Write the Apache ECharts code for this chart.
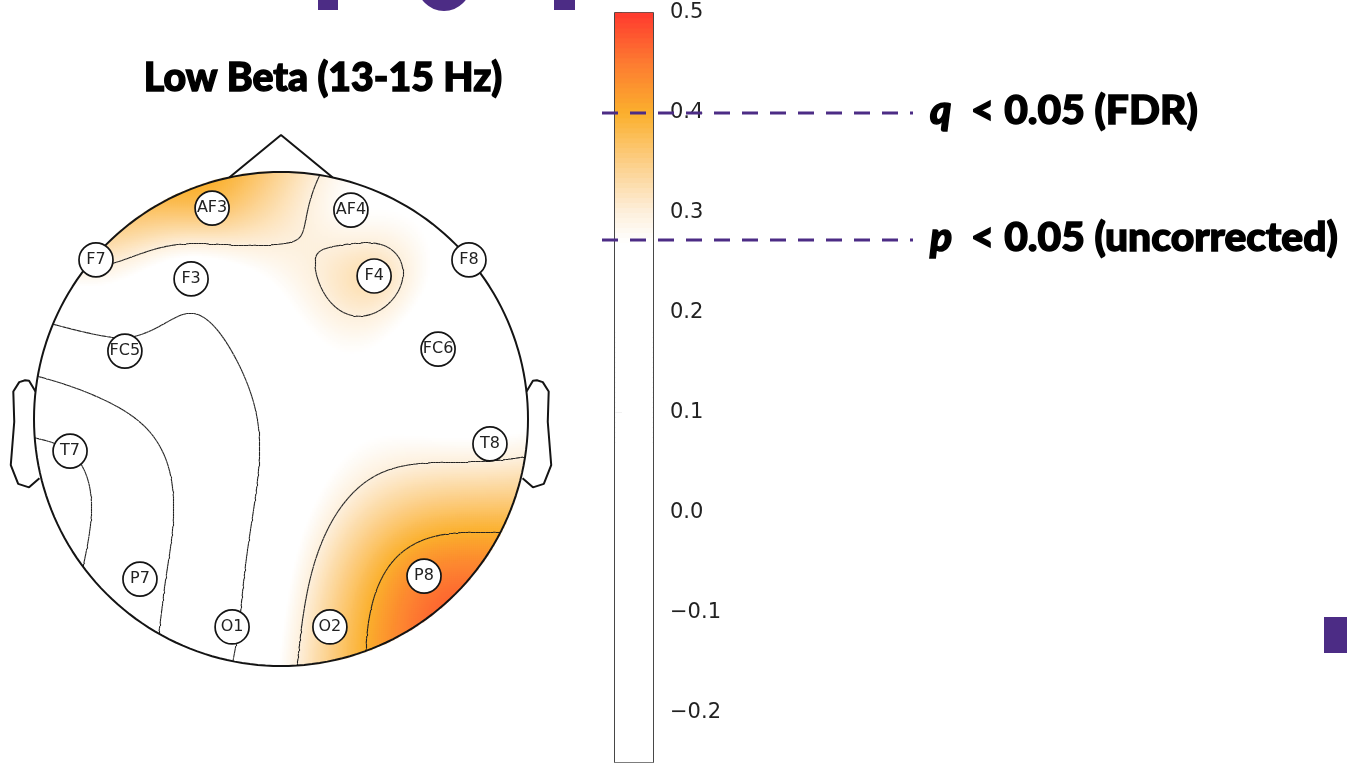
<!DOCTYPE html>
<html><head><meta charset="utf-8">
<script src="https://cdn.jsdelivr.net/npm/echarts@6/dist/echarts.min.js"></script>
<style>html,body{margin:0;padding:0;background:#fff}#c{width:1347px;height:763px}</style>
</head><body><div id="c"></div>
<script>
// ---------------- data ----------------
const channelNames = ['AF3','AF4','F7','F3','F4','F8','FC5','FC6','T7','T8','P7','P8','O1','O2'];
// sensor positions in head units (head radius = 1, nose up)
const channelX = [-0.279, 0.283, -0.749, -0.364, 0.377, 0.761, -0.632, 0.636, -0.854, 0.846, -0.571, 0.579, -0.198, 0.198];
const channelY = [ 0.854, 0.846,  0.644,  0.567, 0.579, 0.644,  0.275, 0.283, -0.130, -0.101, -0.648, -0.636, -0.842, -0.842];
// correlation value per channel
const channelValues = [0.37, 0.272, 0.31, 0.228, 0.325, 0.24, 0.185, 0.22, 0.00, 0.278, 0.07, 0.44, 0.19, 0.345];
const contourLevels = [0.0, 0.1, 0.2, 0.3, 0.4];
const colorbarTicks = [-0.2, -0.1, 0.0, 0.1, 0.2, 0.3, 0.4, 0.5];
const colorRange = [-0.25, 0.5];
const titleText = 'Low Beta (13-15 Hz)';
const thresholdValues = [0.4, 0.273];
const thresholdStats = ['q', 'p'];
const thresholdTexts = ['< 0.05 (FDR)', '< 0.05 (uncorrected)'];

// ---------------- styles ----------------
const colorStops = [[-0.25,'#ffffff'],[0.27,'#ffffff'],[0.3,'#fdf0dd'],[0.35,'#fccf88'],[0.4,'#fbb02d'],[0.45,'#fd7b31'],[0.5,'#ff3a2e']];
const PURPLE = '#4c2c85';

function hex(c){return [parseInt(c.slice(1,3),16),parseInt(c.slice(3,5),16),parseInt(c.slice(5,7),16)];}
function colorAt(v){
  for(let k=0;k<colorStops.length-1;k++){
    const [a,ca]=colorStops[k],[b,cb]=colorStops[k+1];
    if(v<=b){const t=Math.max(0,(v-a)/(b-a));const A=hex(ca),B=hex(cb);
      return 'rgb('+A.map((x,i)=>Math.round(x+(B[i]-x)*t)).join(',')+')';}
  }
  return colorStops[colorStops.length-1][1];
}
const colorList=[];
for(let k=0;k<=75;k++){colorList.push(colorAt(colorRange[0]+k*(colorRange[1]-colorRange[0])/75));}

// ---------------- thin-plate spline of channel values ----------------
const n = channelValues.length;
function phi(r){return r>0? r*r*Math.log(r):0;}
const A=[], rhs=[];
for(let i=0;i<n+3;i++){A.push(new Array(n+3).fill(0));rhs.push(i<n?channelValues[i]:0);}
for(let i=0;i<n;i++){
  for(let j=0;j<n;j++){A[i][j]=phi(Math.hypot(channelX[i]-channelX[j],channelY[i]-channelY[j]));}
  A[i][n]=1;A[i][n+1]=channelX[i];A[i][n+2]=channelY[i];
  A[n][i]=1;A[n+1][i]=channelX[i];A[n+2][i]=channelY[i];
}
function solve(M,b){
  const m=b.length;M=M.map(r=>r.slice());b=b.slice();
  for(let c=0;c<m;c++){
    let p=c;for(let r=c+1;r<m;r++)if(Math.abs(M[r][c])>Math.abs(M[p][c]))p=r;
    [M[c],M[p]]=[M[p],M[c]];[b[c],b[p]]=[b[p],b[c]];
    for(let r=c+1;r<m;r++){const f=M[r][c]/M[c][c];for(let k=c;k<m;k++)M[r][k]-=f*M[c][k];b[r]-=f*b[c];}
  }
  const x=new Array(m).fill(0);
  for(let r=m-1;r>=0;r--){let s=b[r];for(let k=r+1;k<m;k++)s-=M[r][k]*x[k];x[r]=s/M[r][r];}
  return x;
}
const W=solve(A,rhs);
function field(x,y){
  let s=W[n]+W[n+1]*x+W[n+2]*y;
  for(let i=0;i<n;i++)s+=W[i]*phi(Math.hypot(x-channelX[i],y-channelY[i]));
  return s;
}

// ---------------- heatmap cells ----------------
const N=247, cats=[];
for(let i=0;i<N;i++)cats.push(i);
const heatData=[];
for(let i=0;i<N;i++)for(let j=0;j<N;j++){
  const x=-1+(i+0.5)*2/N, y=-1+(j+0.5)*2/N;
  if(x*x+y*y<=1.0){
    const v=Math.min(colorRange[1],Math.max(colorRange[0],field(x,y)));
    heatData.push([i,j,v]);
  }
}

// ---------------- contours (marching squares) ----------------
const M=200, L=1.01, G=[];
const gx=i=>-L+i*2*L/M;
for(let j=0;j<=M;j++){const row=[];for(let i=0;i<=M;i++)row.push(field(gx(i),gx(j)));G.push(row);}
function clipSeg(p,q){
  const ip=p[0]*p[0]+p[1]*p[1]<=1, iq=q[0]*q[0]+q[1]*q[1]<=1;
  if(ip&&iq)return [p,q];
  if(!ip&&!iq)return null;
  const a=ip?p:q,b=ip?q:p;
  const dx=b[0]-a[0],dy=b[1]-a[1];
  const A2=dx*dx+dy*dy,B2=2*(a[0]*dx+a[1]*dy),C2=a[0]*a[0]+a[1]*a[1]-1;
  const t=(-B2+Math.sqrt(Math.max(0,B2*B2-4*A2*C2)))/(2*A2);
  return [a,[a[0]+t*dx,a[1]+t*dy]];
}
const contourData=[];
contourLevels.forEach(lv=>{
  for(let j=0;j<M;j++)for(let i=0;i<M;i++){
    const v0=G[j][i],v1=G[j][i+1],v2=G[j+1][i+1],v3=G[j+1][i];
    const idx=(v0>lv?1:0)|(v1>lv?2:0)|(v2>lv?4:0)|(v3>lv?8:0);
    if(idx===0||idx===15)continue;
    const x0=gx(i),x1=gx(i+1),y0=gx(j),y1=gx(j+1);
    const e=[
      ()=>[x0+(lv-v0)/(v1-v0)*(x1-x0),y0],
      ()=>[x1,y0+(lv-v1)/(v2-v1)*(y1-y0)],
      ()=>[x0+(lv-v3)/(v2-v3)*(x1-x0),y1],
      ()=>[x0,y0+(lv-v0)/(v3-v0)*(y1-y0)]
    ];
    const c=(v0+v1+v2+v3)/4>lv;
    const table={1:[[3,0]],2:[[0,1]],3:[[3,1]],4:[[1,2]],5:c?[[0,1],[2,3]]:[[3,0],[1,2]],6:[[0,2]],7:[[2,3]],
      8:[[2,3]],9:[[0,2]],10:c?[[3,0],[1,2]]:[[0,1],[2,3]],11:[[1,2]],12:[[3,1]],13:[[0,1]],14:[[3,0]]};
    table[idx].forEach(([a,b])=>{const s=clipSeg(e[a](),e[b]());if(s)contourData.push({coords:s});});
  }
});

// ---------------- head outline geometry ----------------
const headCircle=[];
for(let k=0;k<=200;k++){const t=k/200*2*Math.PI;headCircle.push([Math.cos(t),Math.sin(t)]);}
const ndx=Math.cos(Math.acos(Math.PI*12/180)), ndy=Math.sin(Math.acos(Math.PI*12/180));
const nose=[[-ndx,ndy],[0,1.15],[ndx,ndy]];
const earXs=[.497,.510,.518,.5299,.5419,.54,.547,.532,.510,.489];
const earYs=[.0555,.0775,.0783,.0746,.0555,-.0055,-.0932,-.1313,-.1384,-.1199];
const earR=earXs.map((x,k)=>[x*2,earYs[k]*2]);
const earL=earXs.map((x,k)=>[-x*2,earYs[k]*2]);
const outlineStyle={color:'#141414',width:2};
function outline(d){return {type:'line',xAxisIndex:1,yAxisIndex:1,data:d,showSymbol:false,symbol:'none',clip:false,silent:true,lineStyle:outlineStyle,z:5};}

// colorbar levels
const cbStep=0.005, cbData=[];
for(let v=colorRange[0];v<colorRange[1]-1e-9;v+=cbStep)cbData.push([0.5,v+cbStep/2]);

const chart=echarts.init(document.getElementById('c'),null,{renderer:'canvas'});
// head: centre (281,419), radius 247 px
const R=247, CX=281, CY=419;
const xr=[-1.12,1.12], yr=[-1.1,1.2];
const option={
  animation:false,
  backgroundColor:'#fff',
  grid:[
    {left:CX-R,top:CY-R,width:2*R,height:2*R},
    {left:CX+xr[0]*R,top:CY-yr[1]*R,width:(xr[1]-xr[0])*R,height:(yr[1]-yr[0])*R},
    {left:615,top:13,width:38,height:749,show:true,borderColor:'#1a1a1a',borderWidth:1.6,backgroundColor:'transparent'}
  ],
  xAxis:[
    {type:'category',gridIndex:0,data:cats,show:false},
    {type:'value',gridIndex:1,min:xr[0],max:xr[1],show:false},
    {type:'value',gridIndex:2,min:0,max:1,show:false}
  ],
  yAxis:[
    {type:'category',gridIndex:0,data:cats,show:false},
    {type:'value',gridIndex:1,min:yr[0],max:yr[1],show:false},
    {type:'value',gridIndex:2,min:colorRange[0],max:colorRange[1],position:'right',
      splitLine:{show:false},axisLine:{show:false},
      axisTick:{show:true,customValues:colorbarTicks,length:7,lineStyle:{color:'#1a1a1a',width:1.4}},
      axisLabel:{customValues:colorbarTicks,margin:17,fontSize:21,color:'#222',fontFamily:'DejaVu Sans',
        formatter:v=>(Math.abs(v)<1e-9?'0.0':v.toFixed(1).replace('-','\u2212'))}}
  ],
  visualMap:[
    {type:'continuous',show:false,min:colorRange[0],max:colorRange[1],dimension:2,seriesIndex:0,inRange:{color:colorList}},
    {type:'continuous',show:false,min:colorRange[0],max:colorRange[1],dimension:1,seriesIndex:1,inRange:{color:colorList}}
  ],
  series:[
    {type:'heatmap',xAxisIndex:0,yAxisIndex:0,data:heatData,progressive:0,silent:true,emphasis:{disabled:true}},
    {type:'custom',xAxisIndex:2,yAxisIndex:2,data:cbData,silent:true,
      renderItem:(params,api)=>{
        const v=api.value(1);
        const p0=api.coord([0,v-cbStep/2]),p1=api.coord([1,v+cbStep/2]);
        return {type:'rect',shape:{x:p0[0],y:p1[1]-0.3,width:p1[0]-p0[0],height:p0[1]-p1[1]+0.6},style:{fill:api.visual('color')}};
      }},
    {type:'lines',coordinateSystem:'cartesian2d',xAxisIndex:1,yAxisIndex:1,data:contourData,silent:true,
      lineStyle:{color:'#222',width:1.1,opacity:1},z:4},
    outline(headCircle),outline(nose),outline(earR),outline(earL),
    {type:'scatter',xAxisIndex:1,yAxisIndex:1,symbol:'circle',symbolSize:34,silent:true,z:6,
      data:channelNames.map((nm,k)=>({value:[channelX[k],channelY[k]],name:nm})),
      itemStyle:{color:'#fff',borderColor:'#141414',borderWidth:1.7,opacity:1},
      label:{show:true,position:'inside',formatter:p=>p.name,fontSize:16,color:'#222',fontFamily:'DejaVu Sans'}}
  ]
};
chart.setOption(option);

// annotations positioned from threshold values on the colorbar scale
const heavy={fill:'#000',stroke:'#000',lineWidth:1.4};
const graphics=[
  {type:'text',x:323,y:78,scaleX:0.98,style:Object.assign({text:titleText,font:'900 40px Lato',align:'center',verticalAlign:'middle'},heavy)},
  {type:'rect',shape:{x:318,y:0,width:20,height:10},style:{fill:PURPLE}},
  {type:'circle',shape:{cx:444,cy:-16,r:27},style:{fill:PURPLE}},
  {type:'rect',shape:{x:554,y:0,width:21,height:10},style:{fill:PURPLE}},
  {type:'rect',shape:{x:1324,y:617,width:23,height:36},style:{fill:PURPLE}}
];
thresholdValues.forEach((v,k)=>{
  const y=Math.round(chart.convertToPixel({gridIndex:2},[0,v])[1]);
  graphics.push({type:'line',z:20,shape:{x1:602,y1:y,x2:913,y2:y},style:{stroke:PURPLE,lineWidth:3,lineDash:[16,12]}});
  graphics.push({type:'text',x:930,y:y-2,z:20,scaleX:1.02,style:{
    text:'{s|'+thresholdStats[k]+'}{t|'+thresholdTexts[k]+'}',verticalAlign:'middle',
    rich:{s:Object.assign({font:'italic 900 40px Lato',width:40},heavy),t:Object.assign({font:'900 40px Lato'},heavy)}}});
});
chart.setOption({graphic:graphics});
</script></body></html>
